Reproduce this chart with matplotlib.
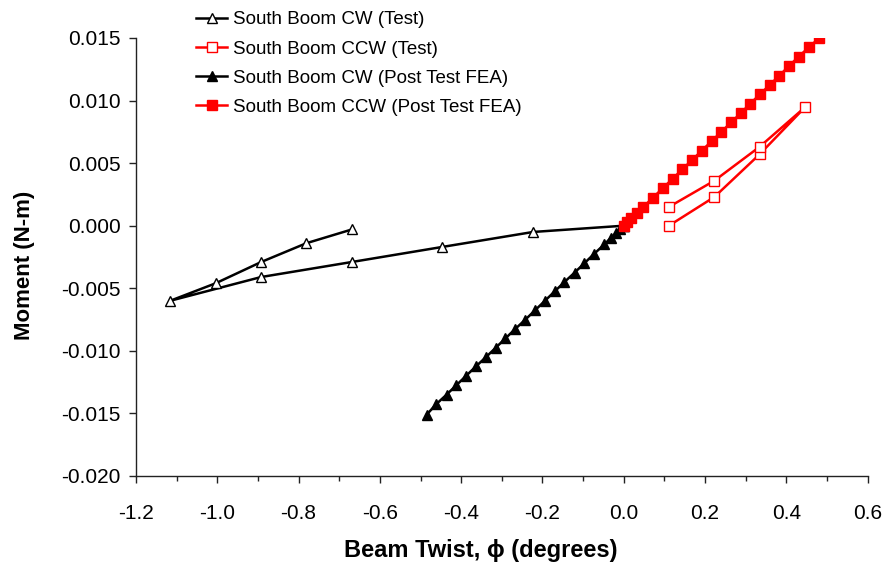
import matplotlib
matplotlib.use('Agg')
import matplotlib.pyplot as plt
from matplotlib.ticker import MultipleLocator, FormatStrFormatter

plt.rcParams['font.family'] = ['Liberation Sans', 'DejaVu Sans']

# South Boom CW (Test) - load then unload
cw_test_x = [0.0, -0.223, -0.447, -0.669, -0.892, -1.116, -1.004, -0.892, -0.781, -0.669]
cw_test_y = [0.0, -0.0005, -0.0017, -0.0029, -0.0041, -0.0060, -0.0046, -0.0029, -0.0014, -0.0003]

# South Boom CCW (Test)
ccw_test_x = [0.111, 0.223, 0.334, 0.447, 0.334, 0.223, 0.111]
ccw_test_y = [0.0, 0.0023, 0.0057, 0.0095, 0.0063, 0.0036, 0.0015]

# South Boom CW (Post Test FEA)
cw_fea_x = [0.0, -0.009, -0.019, -0.032, -0.048, -0.073, -0.097, -0.121, -0.146, -0.170, -0.194, -0.218,
            -0.242, -0.267, -0.291, -0.315, -0.339, -0.364, -0.388, -0.412, -0.436, -0.461, -0.485]
cw_fea_y = [0.0, -0.00028, -0.0006, -0.00098, -0.0015, -0.00225, -0.003, -0.00375, -0.0045, -0.00525,
            -0.006, -0.00675, -0.0075, -0.00825, -0.009, -0.00975, -0.0105, -0.01125, -0.012, -0.01275,
            -0.0135, -0.01425, -0.0151]

# South Boom CCW (Post Test FEA)
ccw_fea_x = [0.0, 0.009, 0.019, 0.032, 0.048, 0.072, 0.096, 0.120, 0.144, 0.168, 0.192, 0.216,
             0.240, 0.264, 0.288, 0.311, 0.335, 0.359, 0.383, 0.406, 0.430, 0.455, 0.481]
ccw_fea_y = [0.0, 0.00028, 0.0006, 0.00098, 0.0015, 0.00225, 0.003, 0.00375, 0.0045, 0.00525,
             0.006, 0.00675, 0.0075, 0.00825, 0.009, 0.00975, 0.0105, 0.01125, 0.012, 0.01275,
             0.0135, 0.01425, 0.0150]

fig = plt.figure(figsize=(8.86, 5.67), dpi=100)
ax = fig.add_axes([0.1535, 0.1605, 0.8258, 0.7725])

ax.plot(cw_test_x, cw_test_y, color='black', lw=1.8, marker='^', ms=7.5,
        mfc='white', mec='black', mew=1.0, label='South Boom CW (Test)')
ax.plot(ccw_test_x, ccw_test_y, color='red', lw=1.8, marker='s', ms=7,
        mfc='white', mec='red', mew=1.0, label='South Boom CCW (Test)')
ax.plot(cw_fea_x, cw_fea_y, color='black', lw=1.8, marker='^', ms=7.5,
        mfc='black', mec='black', label='South Boom CW (Post Test FEA)')
ax.plot(ccw_fea_x, ccw_fea_y, color='red', lw=1.8, marker='s', ms=7,
        mfc='red', mec='red', label='South Boom CCW (Post Test FEA)')

ax.set_xlim(-1.2, 0.6)
ax.set_ylim(-0.020, 0.015)
ax.xaxis.set_major_locator(MultipleLocator(0.2))
ax.xaxis.set_minor_locator(MultipleLocator(0.1))
ax.yaxis.set_major_locator(MultipleLocator(0.005))
ax.xaxis.set_major_formatter(FormatStrFormatter('%.1f'))
ax.yaxis.set_major_formatter(FormatStrFormatter('%.3f'))

for s in ['top', 'right']:
    ax.spines[s].set_visible(False)
for s in ['left', 'bottom']:
    ax.spines[s].set_linewidth(1.0)
    ax.spines[s].set_color('#222222')

ax.tick_params(axis='both', which='major', direction='out', length=5, width=1.0,
               labelsize=15, color='#222222')
ax.tick_params(axis='x', which='minor', direction='out', length=3.5, width=1.0, color='#222222')
ax.tick_params(axis='x', pad=15)
ax.tick_params(axis='y', pad=6)

ax.set_xlabel('Beam Twist, \u03d5 (degrees)', fontsize=17, fontweight='bold')
ax.set_ylabel('Moment (N-m)', fontsize=16, fontweight='bold')
ax.xaxis.set_label_coords(0.471, -0.143)
ax.yaxis.set_label_coords(-0.138, 0.48)

fig.legend(loc='upper left', bbox_to_anchor=(0.209, 1.0), frameon=False, fontsize=13.5,
           handlelength=1.65, handletextpad=0.28, labelspacing=0.64, borderaxespad=0.2)

fig.savefig('out.png', dpi=100)
